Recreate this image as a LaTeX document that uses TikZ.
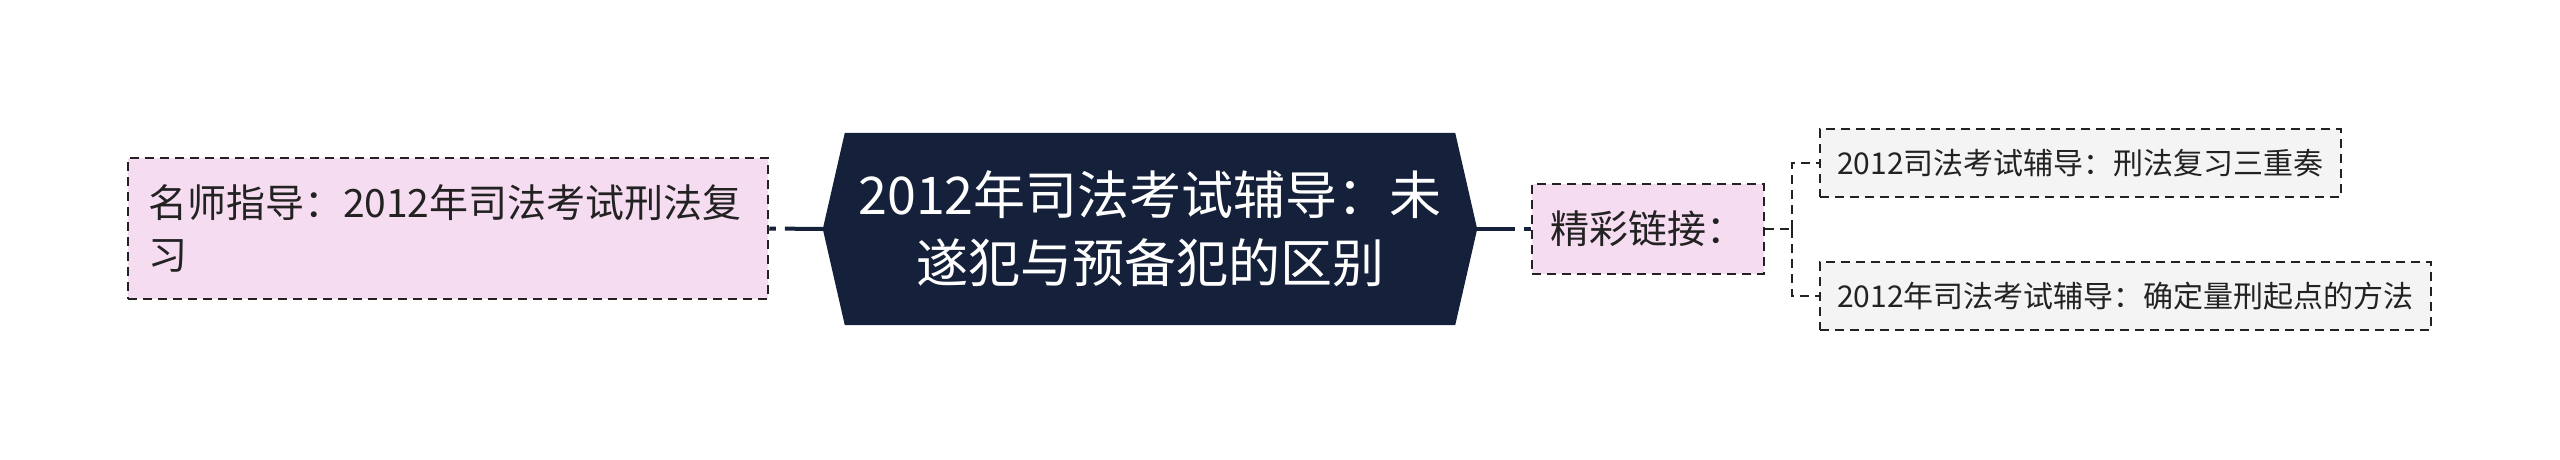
\documentclass[tikz,border=0pt]{standalone}
\usepackage{fontspec}
\setmainfont{Noto Sans CJK SC}
\usetikzlibrary{calc,backgrounds}
\definecolor{navy}{HTML}{15213A}
\definecolor{pinkfill}{HTML}{F6DCF0}
\definecolor{grayfill}{HTML}{F4F4F4}
\definecolor{ink}{HTML}{222222}
\tikzset{
  box/.style={draw=ink, line width=2.5pt, dash pattern=on 9pt off 6pt, inner sep=0pt, text=ink, font=\fontsize{39}{52}\selectfont},
  pinkbox/.style={box, fill=pinkfill},
  leafbox/.style={box, fill=grayfill, font=\fontsize{30}{40}\selectfont, minimum height=68pt},
  rootbox/.style={inner sep=0pt, minimum width=610pt, minimum height=192pt, text=white, align=center, font=\fontsize{52}{68}\selectfont},
  mainlink/.style={draw=navy, line width=4pt, dash pattern=on 38pt off 9pt on 30pt},
  sublink/.style={draw=ink, line width=2.5pt, dash pattern=on 9pt off 6pt}
}
\begin{document}
\begin{tikzpicture}[x=1pt,y=-1pt]
\useasboundingbox (0,0) rectangle (2560,459);
\node[rootbox] (root) at (1150,229) {2012年司法考试辅导：未\\遂犯与预备犯的区别};
\begin{scope}[on background layer]
\fill[navy] (root.north west) -- (root.north east) -- ($(root.east)+(22,0)$) -- (root.south east) -- (root.south west) -- ($(root.west)+(-22,0)$) -- cycle;
\end{scope}
\coordinate (rootL) at ($(root.west)+(-22,0)$);
\coordinate (rootR) at ($(root.east)+(22,0)$);
\node[pinkbox, minimum width=640pt, minimum height=141pt, text width=600pt, inner xsep=20pt, align=left] (left) at (448,228.5) {名师指导：2012年司法考试刑法复\\习};
\node[pinkbox, minimum width=232pt, minimum height=90pt] (links) at (1648,229) {精彩链接：};
\node[leafbox, minimum width=521pt] (leafA) at (2080.5,163) {2012司法考试辅导：刑法复习三重奏};
\node[leafbox, minimum width=611pt] (leafB) at (2125.5,296) {2012年司法考试辅导：确定量刑起点的方法};
\draw[mainlink] (rootL) -- (left.east);
\draw[mainlink] (rootR) -- (links.west);
\coordinate (fork) at (1792,229);
\draw[sublink] (links.east) -- (fork);
\draw[sublink] (fork) |- (leafA.west);
\draw[sublink] (fork) |- (leafB.west);
\end{tikzpicture}
\end{document}
